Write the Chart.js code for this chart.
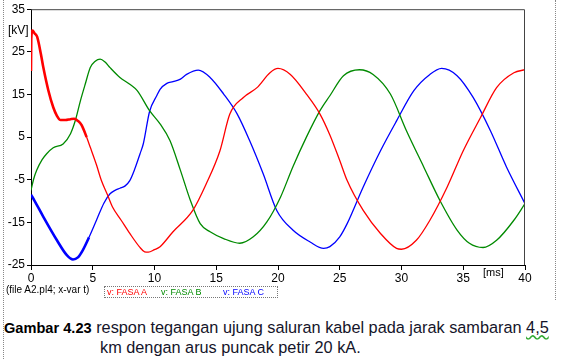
<!DOCTYPE html>
<html>
<head>
<meta charset="utf-8">
<script src="https://cdn.jsdelivr.net/npm/chart.js@4/dist/chart.umd.min.js"></script>
<style>
  body { margin: 0; background: #fff; font-family: "Liberation Sans", Arial, sans-serif; }
  #wrap { position: relative; width: 561px; height: 359px; overflow: hidden; }
  #plot { position: absolute; left: 0; top: 0; }
  .abs { position: absolute; white-space: nowrap; color: #000; }
  #legendBox { position: absolute; left: 104px; top: 286px; width: 172px; height: 10px;
               border: 1px dotted #777; font-size: 9px; line-height: 10px; }
  #legendBox span { position: absolute; top: 0; }
  .cap { font-size: 16.3px; color: #15152a; line-height: 20px; }
  .cap b { font-size: 14.6px; color: #000; }
</style>
</head>
<body>
<div id="wrap">
  <div class="abs" style="left:3px;top:0;height:359px;border-left:1px dotted #888;"></div>
  <div class="abs" style="left:555px;top:0;height:300px;border-left:1px dotted #888;"></div>
  <canvas id="plot" width="561" height="300"></canvas>
  <div class="abs" style="left:8px;top:23px;font-size:12px;">[kV]</div>
  <div class="abs" style="left:483px;top:266px;font-size:11px;">[ms]</div>
  <div class="abs" style="left:6px;top:284px;font-size:10px;">(file A2.pl4; x-var t)</div>
  <div id="legendBox"></div>
  <div class="abs cap" style="left:4px;top:317px;"><b>Gambar 4.23</b> respon tegangan ujung saluran kabel pada jarak sambaran <span style="text-decoration:underline wavy #3a3;">4,5</span></div>
  <div class="abs cap" style="left:100px;top:337px;">km dengan arus puncak petir 20 kA.</div>
</div>
<script>
// series names and colours
const seriesNames = ["v: FASA A", "v: FASA B", "v: FASA C"];
const seriesColors = ["#ff0000", "#008a00", "#0000ff"];

// time [ms] and voltage [kV]
const timeA = [0, 0.02, 0.12, 0.3, 0.5, 0.8, 1.0, 1.4, 1.8, 2.1, 2.4, 2.8, 3.2, 3.5, 3.8, 4.1, 4.5, 4.8, 5.3, 5.7, 6.2, 6.6, 7.3, 8.0, 8.8, 9.2, 9.5, 10.0, 10.45, 11.5, 13.1, 14.2, 15.3, 16.1, 17.2, 18.3, 19.35, 20.0, 21.0, 22.3, 23.4, 24.2, 25.0, 25.6, 26.9, 28.3, 29.6, 30.0, 31.2, 32.3, 33.7, 35.0, 36.4, 37.7, 39.1, 40];
const voltA = [20.5, 28, 30, 29.3, 28.5, 24.5, 21.3, 16, 12, 10, 9, 9, 9.2, 9.3, 8.8, 7.8, 5, 2.6, -1.5, -5.2, -8.6, -11.4, -14.5, -17.6, -20.8, -21.9, -22, -21.4, -20.7, -17.2, -12.2, -5.9, 1.8, 10.4, 14.3, 16.6, 20.1, 21.1, 19.7, 15.1, 10.4, 5.5, -0.5, -5.2, -12.2, -17.6, -21.1, -21.3, -19.2, -14.5, -6.7, 1.8, 9.6, 16.6, 20.1, 20.8];

const timeB = [0, 0.2, 0.46, 0.9, 1.27, 1.8, 2.6, 3.2, 3.6, 4.0, 4.4, 4.8, 5.2, 5.6, 6.0, 6.4, 7.2, 8.0, 8.6, 9.6, 10.45, 11.25, 12.1, 12.9, 13.7, 14.5, 15.6, 16.9, 18.0, 19.1, 20.2, 21.2, 22.3, 23.4, 24.2, 25.3, 26.6, 27.7, 29.1, 30.4, 31.8, 33.1, 34.5, 35.5, 36.6, 37.7, 39.1, 40];
const voltB = [-7.5, -5, -2.8, -0.3, 1.1, 2.5, 3.4, 5.8, 9, 13.5, 17.5, 21.3, 22.8, 23.3, 22.6, 21.3, 19, 17.4, 15.9, 11.2, 8.1, 4.2, -2.8, -9.8, -15.3, -17.2, -18.8, -19.9, -18.4, -14.9, -9.1, -2.0, 5, 11.2, 14.7, 19.4, 20.8, 19.7, 15.1, 6.5, -2, -9.8, -16.8, -19.9, -20.9, -19.2, -14.5, -10.6];

const timeC = [0, 0.3, 1.0, 2.1, 2.9, 3.4, 3.8, 4.2, 4.7, 5.3, 5.9, 6.4, 6.8, 7.2, 7.6, 8.0, 8.4, 8.83, 9.1, 9.6, 10.2, 10.45, 11.0, 11.5, 12.1, 12.6, 13.55, 14.5, 15.6, 16.7, 17.7, 18.8, 19.9, 21.2, 22.6, 23.7, 24.2, 25.0, 25.6, 26.9, 28.3, 29.6, 31.0, 32.3, 33.25, 34.5, 35.8, 37.2, 38.5, 40];
const voltC = [-8.5, -10, -13.7, -19.2, -22.7, -23.7, -23.2, -21.5, -18.5, -14.5, -10.5, -8.3, -7.5, -7, -6.5, -5.2, -2.5, 1.1, 3.5, 11, 14.8, 16.2, 17.6, 18.0, 18.6, 19.7, 20.7, 19, 15.1, 10.4, 4.2, -3.6, -12.2, -16.8, -19.6, -21.1, -20.7, -18.4, -15.3, -6.7, 1.8, 8.8, 15.9, 19.7, 21.1, 19.4, 14.3, 6.5, -2, -10.6];

const xTicks = { min: 0, max: 40, step: 5 };
const yTicks = { min: -25, max: 35, step: 10 };

const times = [timeA, timeB, timeC];
const volts = [voltA, voltB, voltC];
// the first few ms are noisy in A and C, drawn thicker
const thickUntil = [4.2, 0, 4.6];

const legendBox = document.getElementById("legendBox");
const legendLeft = [2, 56, 118];
seriesNames.forEach((name, i) => {
    const s = document.createElement("span");
    s.textContent = name;
    s.style.left = legendLeft[i] + "px";
    s.style.color = seriesColors[i];
    legendBox.appendChild(s);
});

const boxPlugin = {
    id: "box",
    afterDraw(chart) {
        const a = chart.chartArea;
        const ctx = chart.ctx;
        ctx.save();
        ctx.strokeStyle = "#444";
        ctx.lineWidth = 1;
        ctx.beginPath();
        ctx.moveTo(a.left, a.top + 0.5);
        ctx.lineTo(a.right - 0.5, a.top + 0.5);
        ctx.lineTo(a.right - 0.5, a.bottom);
        ctx.stroke();
        ctx.restore();
    }
};

new Chart(document.getElementById("plot"), {
    type: "line",
    data: {
        datasets: seriesNames.map((name, i) => ({
            label: name,
            data: times[i].map((t, j) => ({ x: t, y: volts[i][j] })),
            borderColor: seriesColors[i],
            borderWidth: 1.3,
            pointRadius: 0,
            fill: false,
            cubicInterpolationMode: "monotone",
            segment: {
                borderWidth: ctx => (ctx.p0.parsed.x < thickUntil[i] ? 2.6 : 1.3)
            }
        }))
    },
    options: {
        responsive: false,
        devicePixelRatio: 1,
        animation: false,
        layout: { padding: { top: 8, right: 36, left: 0, bottom: 0 } },
        plugins: { legend: { display: false }, tooltip: { enabled: false } },
        scales: {
            x: {
                type: "linear",
                min: xTicks.min,
                max: xTicks.max,
                ticks: { stepSize: xTicks.step, color: "#000", padding: 1, maxRotation: 0,
                         font: { family: "Liberation Sans", size: 12 } },
                grid: { drawOnChartArea: false, tickLength: 5, color: "#000" },
                border: { color: "#000", width: 1 },
                afterFit: s => { s.height = 35; }
            },
            y: {
                min: yTicks.min,
                max: yTicks.max,
                ticks: { stepSize: yTicks.step, color: "#000", padding: 2,
                         font: { family: "Liberation Sans", size: 12 } },
                grid: { drawOnChartArea: false, tickLength: 4, color: "#000" },
                border: { color: "#000", width: 1 },
                afterFit: s => { s.width = 31; }
            }
        }
    },
    plugins: [boxPlugin]
});
</script>
</body>
</html>
